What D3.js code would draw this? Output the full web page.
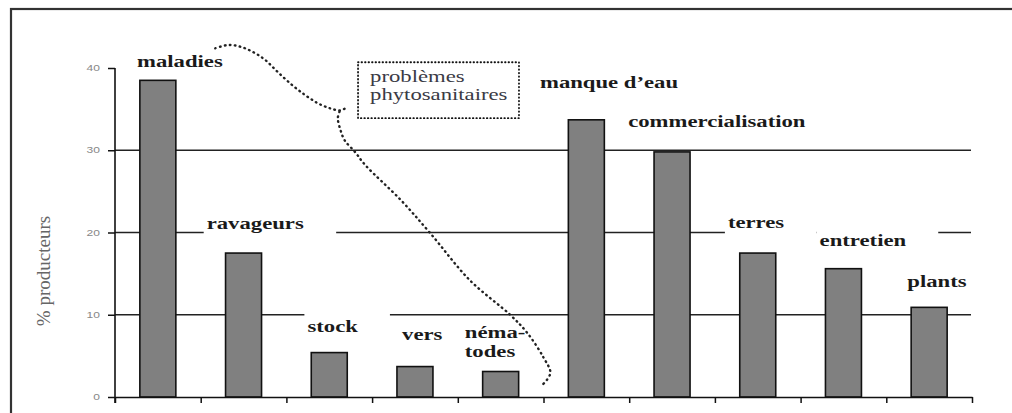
<!DOCTYPE html>
<html>
<head>
<meta charset="utf-8">
<script src="https://cdn.jsdelivr.net/npm/d3@7"></script>
<style>
  body { margin: 0; background: #fff; }
  svg { display: block; }
</style>
</head>
<body>
<div id="chart"></div>
<script>
// values (% of producers citing each constraint)
var categories = ["maladies", "ravageurs", "stock", "vers", "nématodes",
                  "manque d\u2019eau", "commercialisation", "terres", "entretien", "plants"];
var values = [38.5, 17.5, 5.4, 3.7, 3.1, 33.7, 29.8, 17.5, 15.6, 10.9];
var yTicks = [0, 10, 20, 30, 40];
var gridValues = [10, 20, 30];
var labelLines = [["maladies"], ["ravageurs"], ["stock"], ["vers"], ["néma-", "todes"],
                  ["manque d\u2019eau"], ["commercialisation"], ["terres"], ["entretien"], ["plants"]];
var yTitle = "% producteurs";
var noteLines = ["problèmes", "phytosanitaires"];

// label anchors: [px offset from category start, height in % units]
var labelPos = [[22, 40.1], [6, 20.4], [21, 7.9], [30, 6.9], [7, 7.2],
                [-3.5, 37.6], [-1, 32.8], [13, 20.6], [19, 18.4], [21, 13.4]];
// dotted brace linking the plant-health constraints, in [category index, %] space
var braceTop = [[1.17, 42.4], [1.32, 42.8], [1.46, 42.6], [1.6, 42.0], [1.75, 41.0], [1.9, 39.5],
                [2.07, 37.9], [2.22, 36.7], [2.37, 35.7], [2.51, 35.1], [2.63, 34.85], [2.72, 35.3]];
var braceDown = [[2.62, 34.7], [2.6, 33.9], [2.63, 32.5], [2.68, 31.2], [2.8, 29.8], [2.92, 28.2],
                 [3.33, 24.0], [3.68, 19.9], [4.14, 14.2], [4.61, 10.0], [4.81, 7.8],
                 [5.0, 4.8], [5.08, 2.9], [4.99, 1.5]];
var noteBox = [[2.836, 40.7], [4.714, 33.9]];

var W = 1012, H = 413;
var plotL = 115, plotR = 972, plotB = 397, plotT = 68;
var stretch = 1.42;

var svg = d3.select("#chart").append("svg")
    .attr("width", W)
    .attr("height", H);

// outer frame
svg.append("rect")
    .attr("x", 11).attr("y", 9)
    .attr("width", 1100).attr("height", 500)
    .attr("fill", "none")
    .attr("stroke", "#333")
    .attr("stroke-width", 2.2);

var x = d3.scaleBand().domain(categories).range([plotL, plotR])
    .paddingInner(0.58).paddingOuter(0.29);
var xb = d3.scaleLinear().domain([0, categories.length]).range([plotL, plotR]);
var y = d3.scaleLinear().domain([0, 40]).range([plotB, plotT]);

// gridlines
svg.selectAll(".grid")
    .data(gridValues)
  .enter().append("line")
    .attr("class", "grid")
    .attr("x1", plotL).attr("x2", plotR - 1)
    .attr("y1", function(d) { return y(d); })
    .attr("y2", function(d) { return y(d); })
    .attr("stroke", "#222")
    .attr("stroke-width", 1.5);

// category labels, each on a white text box that hides the gridlines
var labels = svg.selectAll(".lab")
    .data(categories)
  .enter().append("g")
    .attr("class", "lab")
    .attr("transform", function(d, i) {
      return "translate(" + (xb(i) + labelPos[i][0]) + "," + y(labelPos[i][1]) + ")";
    });

labels.append("text")
    .attr("transform", "scale(" + stretch + ",1)")
    .attr("font-family", "'Liberation Serif', 'Times New Roman', serif")
    .attr("font-weight", "bold")
    .attr("font-size", 16)
    .attr("fill", "#1a1a1a")
    .each(function(d, i) {
      var t = d3.select(this);
      labelLines[i].forEach(function(line, k) {
        t.append("tspan").attr("x", 0).attr("y", k * 19).text(line);
      });
    });

labels.each(function() {
  var g = d3.select(this);
  var bb = this.getBBox();
  g.insert("rect", "text")
      .attr("x", bb.x - 3)
      .attr("y", bb.y - 4)
      .attr("width", bb.width + 35)
      .attr("height", bb.height + 11)
      .attr("fill", "#fff");
});

// bars
svg.selectAll(".bar")
    .data(values)
  .enter().append("rect")
    .attr("class", "bar")
    .attr("x", function(d, i) { return x(categories[i]); })
    .attr("width", x.bandwidth())
    .attr("y", function(d) { return y(d); })
    .attr("height", function(d) { return plotB - y(d); })
    .attr("fill", "#808080")
    .attr("stroke", "#111")
    .attr("stroke-width", 1.6);

// y axis
var yAxis = svg.append("g")
    .attr("transform", "translate(" + plotL + ",0)")
    .call(d3.axisLeft(y).tickValues(yTicks).tickSize(7).tickSizeOuter(0));
yAxis.select(".domain").remove();
yAxis.append("line")
    .attr("x1", 0).attr("x2", 0)
    .attr("y1", plotT).attr("y2", plotB + 6)
    .attr("stroke", "#111").attr("stroke-width", 1.6);
yAxis.selectAll(".tick line").attr("stroke", "#111").attr("stroke-width", 1.5);
yAxis.selectAll(".tick text")
    .attr("x", null)
    .attr("transform", "translate(-15,0) scale(" + stretch + ",1)")
    .attr("font-family", "'Liberation Sans', Arial, sans-serif")
    .attr("font-size", 8.5)
    .attr("fill", "#888");

// x axis: ticks between categories
var xAxis = svg.append("g")
    .attr("transform", "translate(0," + plotB + ")")
    .call(d3.axisBottom(xb).tickValues(d3.range(categories.length + 1))
      .tickSize(6).tickSizeOuter(0).tickFormat(""));
xAxis.select(".domain").attr("stroke", "#111").attr("stroke-width", 1.6);
xAxis.selectAll(".tick line").attr("stroke", "#111").attr("stroke-width", 1.5);

// y title
svg.append("text")
    .attr("transform", "translate(50,271) rotate(-90)")
    .attr("text-anchor", "middle")
    .attr("font-family", "'Liberation Serif', 'Times New Roman', serif")
    .attr("font-size", 19)
    .attr("fill", "#666")
    .text(yTitle);

// dotted brace
var brace = d3.line()
    .x(function(d) { return xb(d[0]); })
    .y(function(d) { return y(d[1]); })
    .curve(d3.curveCatmullRom);

[braceTop, braceDown].forEach(function(pts) {
  svg.append("path")
      .attr("d", brace(pts))
      .attr("fill", "none")
      .attr("stroke", "#222")
      .attr("stroke-width", 2.4)
      .attr("stroke-linecap", "round")
      .attr("stroke-dasharray", "0.6,4.4");
});

// note box
svg.append("rect")
    .attr("x", xb(noteBox[0][0]))
    .attr("y", y(noteBox[0][1]))
    .attr("width", xb(noteBox[1][0]) - xb(noteBox[0][0]))
    .attr("height", y(noteBox[1][1]) - y(noteBox[0][1]))
    .attr("fill", "none")
    .attr("stroke", "#111")
    .attr("stroke-width", 1.8)
    .attr("stroke-linecap", "round")
    .attr("stroke-dasharray", "0.5,3");

var note = svg.append("text")
    .attr("transform", "translate(" + (xb(noteBox[0][0]) + 12) + "," + (y(noteBox[0][1]) + 20) + ") scale(" + stretch + ",1)")
    .attr("font-family", "'Liberation Serif', 'Times New Roman', serif")
    .attr("font-size", 16)
    .attr("fill", "#3a3a44");
noteLines.forEach(function(line, k) {
  note.append("tspan").attr("x", 0).attr("y", k * 18).text(line);
});
</script>
</body>
</html>
